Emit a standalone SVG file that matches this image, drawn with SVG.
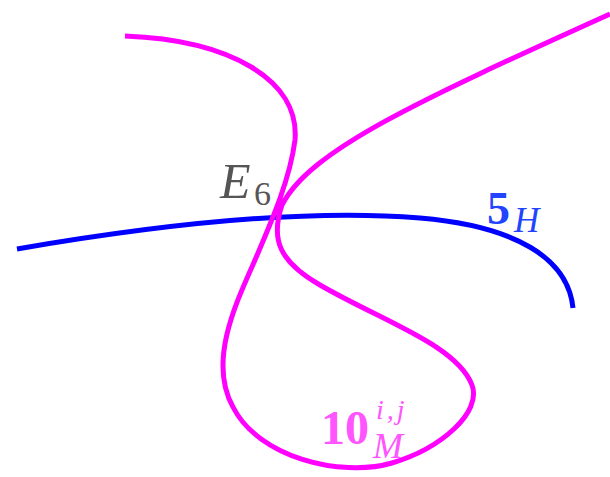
<svg xmlns="http://www.w3.org/2000/svg" width="610" height="477" viewBox="0 0 610 477">
<style>
.c{fill:none;stroke-width:5;stroke-linecap:butt}
.t{font-family:"Liberation Serif","DejaVu Serif",serif}
</style>
<rect width="610" height="477" fill="#fff"/>
<g id="connectors">
<path id="blue" class="c" stroke="#0000ff" d="M17,249 C150,226 300,208 420,218 C515,226 568,258 573,308"/>
<path id="magenta" class="c" stroke="#ff00ff" d="M125,36 C230,40 300,80 295,140 C290,180 270,225 255,260 C235,305 208,362 233,407 C258,457 340,478 392,463 C442,448 482,412 472,385 C457,345 380,320 320,285 C280,262 270,240 282,205 C310,150 420,100 610,14"/>
</g>
<g id="E6" class="t" fill="#555555">
<text x="220" y="198" font-size="50" font-style="italic">E</text>
<text x="254" y="205" font-size="34">6</text>
</g>
<g id="5H" class="t" fill="#2244ff">
<text x="487" y="224" font-size="46" font-weight="bold">5</text>
<text x="514" y="232" font-size="35" font-style="italic">H</text>
</g>
<g id="10M" class="t" fill="#ff55ff">
<text x="321" y="444" font-size="48" font-weight="bold">10</text>
<text x="376" y="419" font-size="28" font-style="italic" letter-spacing="3">i,j</text>
<text x="373" y="458" font-size="36" font-style="italic">M</text>
</g>
</svg>
